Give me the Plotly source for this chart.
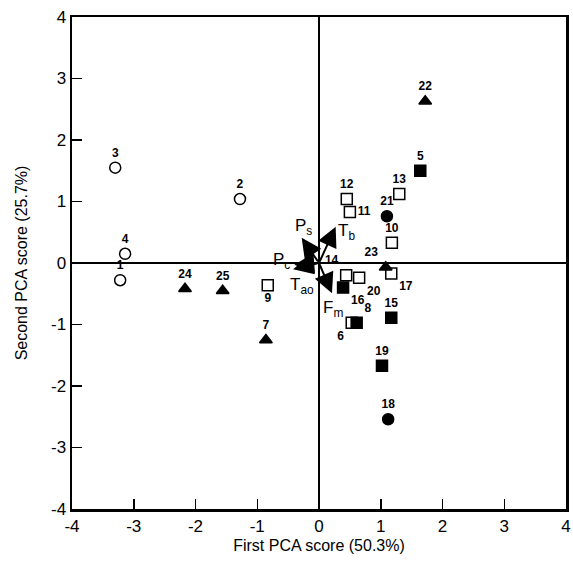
import plotly.graph_objects as go

# ---- data ----
open_circle_ids = ["1", "2", "3", "4"]
open_circle_x = [-3.22, -1.28, -3.30, -3.14]
open_circle_y = [-0.28, 1.04, 1.55, 0.15]
open_circle_pos = ["top center"] * 4

filled_square_ids = ["5", "8", "15", "16", "19"]
filled_square_x = [1.64, 0.61, 1.17, 0.39, 1.02]
filled_square_y = [1.50, -0.97, -0.89, -0.40, -1.67]
filled_square_pos = ["top center", "top right", "top center", "bottom right", "top center"]

open_square_ids = ["6", "9", "10", "11", "12", "13", "14", "17", "20"]
open_square_x = [0.53, -0.83, 1.18, 0.50, 0.45, 1.30, 0.44, 1.17, 0.65]
open_square_y = [-0.97, -0.36, 0.33, 0.83, 1.04, 1.12, -0.20, -0.17, -0.24]
open_square_pos = ["bottom left", "bottom center", "top center", "middle right", "top center",
                   "top center", "top left", "bottom right", "bottom right"]

triangle_ids = ["7", "22", "23", "24", "25"]
triangle_x = [-0.86, 1.72, 1.08, -2.17, -1.56]
triangle_y = [-1.25, 2.63, -0.07, -0.42, -0.45]
triangle_pos = ["top center", "top center", "top left", "top center", "top center"]

filled_circle_ids = ["18", "21"]
filled_circle_x = [1.12, 1.10]
filled_circle_y = [-2.54, 0.76]
filled_circle_pos = ["top center", "top center"]

vector_names = ["P<sub>s</sub>", "T<sub>b</sub>", "P<sub>c</sub>", "T<sub>ao</sub>", "F<sub>m</sub>"]
vector_x = [-0.28, 0.27, -0.40, -0.42, 0.21]
vector_y = [0.41, 0.59, -0.03, -0.10, -0.49]
vector_label_x = [-0.25, 0.45, -0.60, -0.27, 0.22]
vector_label_y = [0.59, 0.50, 0.03, -0.38, -0.74]

x_ticks = [-4, -3, -2, -1, 0, 1, 2, 3, 4]
y_ticks = [-4, -3, -2, -1, 0, 1, 2, 3, 4]

# ---- figure ----
fig = go.Figure()
FONT = "Liberation Sans, Arial, Helvetica"
lab_font = dict(family=FONT, size=12, color="black")


def add_group(xs, ys, ids, pos, symbol, lw=1.5):
    fig.add_trace(go.Scatter(
        x=xs, y=ys, mode="markers+text", text=["<b>%s</b>" % i for i in ids],
        textposition=pos, textfont=lab_font,
        marker=dict(symbol=symbol, size=11, color="black",
                    line=dict(color="black", width=lw)),
        showlegend=False, cliponaxis=False, hoverinfo="skip"))


add_group(open_circle_x, open_circle_y, open_circle_ids, open_circle_pos, "circle-open")
add_group(filled_square_x, filled_square_y, filled_square_ids, filled_square_pos, "square")
add_group(open_square_x, open_square_y, open_square_ids, open_square_pos, "square-open")
add_group(triangle_x, triangle_y, triangle_ids, triangle_pos, "triangle-up")
add_group(filled_circle_x, filled_circle_y, filled_circle_ids, filled_circle_pos, "circle")

for vx, vy in zip(vector_x, vector_y):
    fig.add_annotation(x=vx, y=vy, ax=0, ay=0, xref="x", yref="y", axref="x", ayref="y",
                       showarrow=True, arrowhead=2, arrowsize=2, arrowwidth=2,
                       arrowcolor="black", text="")
for name, lx, ly in zip(vector_names, vector_label_x, vector_label_y):
    fig.add_annotation(x=lx, y=ly, xref="x", yref="y", text=name, showarrow=False,
                       font=dict(family=FONT, size=17, color="black"))

axis_common = dict(
    showgrid=False, zeroline=True, zerolinecolor="black", zerolinewidth=2,
    showline=True, linecolor="black", linewidth=2.5, mirror=True,
    ticks="inside", ticklen=10, tickwidth=1.5, tickcolor="black",
    tickfont=dict(family=FONT, size=17, color="black"),
)

fig.update_xaxes(range=[-4, 4], tickvals=x_ticks, ticktext=[str(t) for t in x_ticks],
                 title=dict(text="First PCA score (50.3%)", standoff=5,
                            font=dict(family=FONT, size=16, color="black")),
                 **axis_common)
fig.update_yaxes(range=[-4, 4], tickvals=y_ticks, ticktext=[str(t) for t in y_ticks],
                 title=dict(text="Second PCA score (25.7%)", standoff=20,
                            font=dict(family=FONT, size=16, color="black")),
                 **axis_common)

fig.update_layout(width=573, height=571, margin=dict(l=72, r=7, t=17, b=62, autoexpand=False),
                  plot_bgcolor="white", paper_bgcolor="white", hovermode=False)

fig.write_html("out.html", config={"displayModeBar": False, "staticPlot": True},
               post_script="document.body.style.margin='0';document.body.style.overflow='hidden';")
